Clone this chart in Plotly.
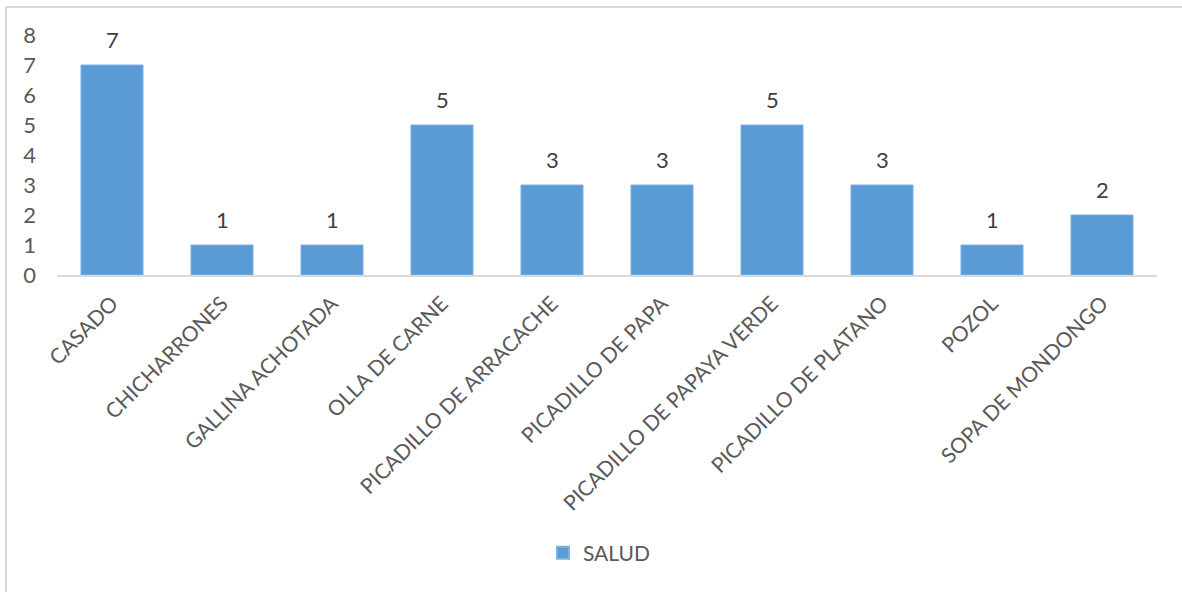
import plotly.graph_objects as go

categories = ["CASADO", "CHICHARRONES", "GALLINA ACHOTADA", "OLLA DE CARNE",
              "PICADILLO DE ARRACACHE", "PICADILLO DE PAPA", "PICADILLO DE PAPAYA VERDE",
              "PICADILLO DE PLATANO", "POZOL", "SOPA DE MONDONGO"]
salud = [7, 1, 1, 5, 3, 3, 5, 3, 1, 2]
y_ticks = [0, 1, 2, 3, 4, 5, 6, 7, 8]
series_name = "SALUD"

W, H = 1182, 592
L, R, T, B = 57, 25, 35, 317
pw, ph = W - L - R, H - T - B

def px(x):
    return (x - L) / pw

def py(y):
    return (H - B - y) / ph

FONT = "Lato"
FS = 21
BAR = "#5B9BD5"

fig = go.Figure()
fig.add_trace(go.Bar(
    x=categories, y=salud, name=series_name,
    marker=dict(color=BAR, line=dict(color="#7FB1E0", width=1)),
    showlegend=True, hoverinfo="skip",
))

for c, v in zip(categories, salud):
    fig.add_annotation(x=c, y=v, text=str(v), showarrow=False,
                       yanchor="bottom", yshift=10,
                       font=dict(family=FONT, size=22, color="#404040"))

# outer chart border (top and left only visible)
fig.add_shape(type="line", xref="paper", yref="paper",
              x0=px(6), x1=px(1190), y0=py(7), y1=py(7),
              line=dict(color="#D9D9D9", width=2))
fig.add_shape(type="line", xref="paper", yref="paper",
              x0=px(6), x1=px(6), y0=py(7), y1=py(600),
              line=dict(color="#D9D9D9", width=2))

fig.update_layout(
    width=W, height=H,
    margin=dict(l=L, r=R, t=T, b=B, autoexpand=False),
    paper_bgcolor="white", plot_bgcolor="white",
    bargap=0.436,
    font=dict(family=FONT, size=FS, color="#595959"),
    legend=dict(orientation="h", x=px(543), xanchor="left", y=py(553), yanchor="middle",
                font=dict(family=FONT, size=FS, color="#595959"),
                itemwidth=30, itemsizing="constant"),
)
fig.update_xaxes(showgrid=False, showline=True, linecolor="#D9D9D9", linewidth=2,
                 tickangle=-45, ticks="", ticklabelstandoff=6,
                 tickfont=dict(family=FONT, size=FS, color="#595959"),
                 fixedrange=True)
fig.update_yaxes(range=[0, 8], tickvals=y_ticks, showgrid=False, zeroline=False,
                 showline=False, ticks="", ticklabelstandoff=20, fixedrange=True,
                 tickfont=dict(family=FONT, size=22, color="#595959"))

fig.write_html("out.html", config={"displayModeBar": False},
               post_script="document.body.style.margin='0';document.body.style.overflow='hidden';")
